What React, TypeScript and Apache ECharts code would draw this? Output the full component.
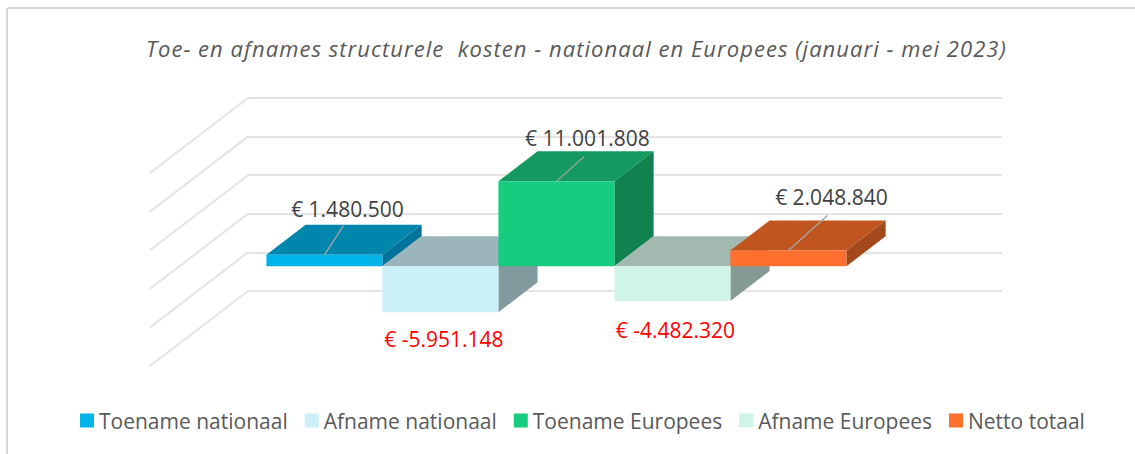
import React, { useEffect, useRef } from "react";
import * as echarts from "echarts";

const titleText = "Toe- en afnames structurele  kosten - nationaal en Europees (januari - mei 2023)";
const categories = ["Structurele kosten"];
const seriesNames = ["Toename nationaal", "Afname nationaal", "Toename Europees", "Afname Europees", "Netto totaal"];
const seriesValues = [1480500, -5951148, 11001808, -4482320, 2048840];
const gridTicks = [15000000, 10000000, 5000000, 0, -5000000, -10000000];

const faceColors = [
  { front: "#00b4e9", top: "#0085ac", side: "#00739a" },
  { front: "#cbf0f9", top: "#9cb5bc", side: "#839a9f" },
  { front: "#17cb7f", top: "#149a60", side: "#0f8250" },
  { front: "#d0f5e7", top: "#a1b9ae", side: "#869b94" },
  { front: "#ff6f2d", top: "#c15520", side: "#a4491b" },
];
const labelPlacement = [
  { dx: 23, dy: -46, lx: 19, ly: -29 },
  { dx: 3.5, dy: 27 },
  { dx: 31, dy: -43, lx: 28, ly: -25 },
  { dx: 3, dy: 29 },
  { dx: 43, dy: -53, lx: 39, ly: -35 },
];

const WALL_DX = -98;
const WALL_DY = 75;
const BACK_T = 0.3;
const FRONT_T = 0.7;
const SLOTS = 6.5;
const FONT = "'Open Sans', sans-serif";

const formatEuro = (v: number) => {
  const digits = Math.abs(v).toString().replace(/\B(?=(\d{3})+(?!\d))/g, ".");
  return `€ ${v < 0 ? "-" : ""}${digits}`;
};

const barRenderer = (i: number) => (_params: any, api: any) => {
  const v = api.value(1);
  const band = api.size([1, 0])[0];
  const w = band / SLOTS;
  const [cx, yv] = api.coord([0, v]);
  const [, y0] = api.coord([0, 0]);
  const xb = cx - (seriesNames.length / 2) * w + i * w;
  const fdx = WALL_DX * FRONT_T, fdy = WALL_DY * FRONT_T;
  const bdx = WALL_DX * BACK_T, bdy = WALL_DY * BACK_T;
  const yTop = Math.min(y0, yv), yBot = Math.max(y0, yv);
  const fl = xb + fdx, fr = xb + w + fdx;
  const bl = xb + bdx, br = xb + w + bdx;
  const c = faceColors[i];
  const p = labelPlacement[i];
  const mid = (fl + fr) / 2;
  const topFront = yTop + fdy, botFront = yBot + fdy, topBack = yTop + bdy, botBack = yBot + bdy;
  const anchorY = v < 0 ? botFront : topFront;
  const children: any[] = [
    { type: "polygon", shape: { points: [[fl, topFront], [fr, topFront], [br, topBack], [bl, topBack]] }, style: { fill: c.top } },
    { type: "polygon", shape: { points: [[fr, topFront], [br, topBack], [br, botBack], [fr, botFront]] }, style: { fill: c.side } },
    { type: "rect", shape: { x: fl, y: topFront, width: w, height: botFront - topFront }, style: { fill: c.front } },
  ];
  if (p.lx !== undefined) {
    children.push({
      type: "line",
      shape: { x1: mid, y1: anchorY, x2: mid + p.lx, y2: anchorY + (p.ly as number) },
      style: { stroke: "#a6a6a6", lineWidth: 1.3 },
    });
  }
  children.push({
    type: "text",
    x: mid + p.dx,
    y: anchorY + p.dy,
    style: {
      text: formatEuro(v),
      fill: v < 0 ? "#ff0000" : "#404040",
      font: `21px ${FONT}`,
      textAlign: "center",
      textVerticalAlign: "middle",
    },
  });
  return { type: "group", children };
};

const wallRenderer = (params: any, api: any) => {
  const x = params.coordSys.x;
  const [, y] = api.coord([0, api.value(1)]);
  return {
    type: "line",
    shape: { x1: x, y1: y, x2: x + WALL_DX, y2: y + WALL_DY },
    style: { stroke: "#e4e4e4", lineWidth: 2 },
  };
};

export default function App() {
  const ref = useRef<HTMLDivElement>(null);
  useEffect(() => {
    const chart = echarts.init(ref.current!, undefined, { renderer: "svg" });
    chart.setOption({
      animation: false,
      backgroundColor: "#ffffff",
      title: {
        text: titleText,
        left: 141,
        top: 32,
        textStyle: { fontFamily: FONT, fontStyle: "italic", fontWeight: "normal", fontSize: 22, color: "#595959" },
      },
      legend: {
        data: seriesNames,
        left: 75,
        top: 405,
        icon: "rect",
        itemWidth: 14,
        itemHeight: 14,
        itemGap: 17,
        textStyle: { fontFamily: FONT, fontSize: 21, color: "#595959" },
      },
      grid: { left: 248, right: 133, top: 98, bottom: 163 },
      xAxis: { type: "category", data: categories, axisLine: { show: false }, axisTick: { show: false }, axisLabel: { show: false } },
      yAxis: {
        type: "value",
        min: -10000000,
        max: 15000000,
        interval: 5000000,
        axisLine: { show: false },
        axisTick: { show: false },
        axisLabel: { show: false },
        splitLine: { show: true, lineStyle: { color: "#e4e4e4", width: 2 } },
      },
      graphic: [
        { type: "line", shape: { x1: 8, y1: 8, x2: 1135, y2: 8 }, style: { stroke: "#d9d9d9", lineWidth: 2 } },
        { type: "line", shape: { x1: 7, y1: 8, x2: 7, y2: 454 }, style: { stroke: "#d9d9d9", lineWidth: 2 } },
      ],
      series: [
        {
          type: "custom",
          name: "walls",
          renderItem: wallRenderer,
          encode: { x: 0, y: 1 },
          data: gridTicks.map((t) => [0, t]),
          silent: true,
        },
        ...seriesNames.map((name, i) => ({
          type: "custom",
          name,
          renderItem: barRenderer(i),
          encode: { x: 0, y: 1 },
          itemStyle: { color: faceColors[i].front },
          data: [[0, seriesValues[i]]],
        })),
      ],
    });
    return () => chart.dispose();
  }, []);
  return (
    <>
      <style>{`svg text[style*="italic"] { letter-spacing: 1.04px; }`}</style>
      <div ref={ref} style={{ position: "absolute", left: 0, top: 0, width: 1135, height: 454 }} />
    </>
  );
}
